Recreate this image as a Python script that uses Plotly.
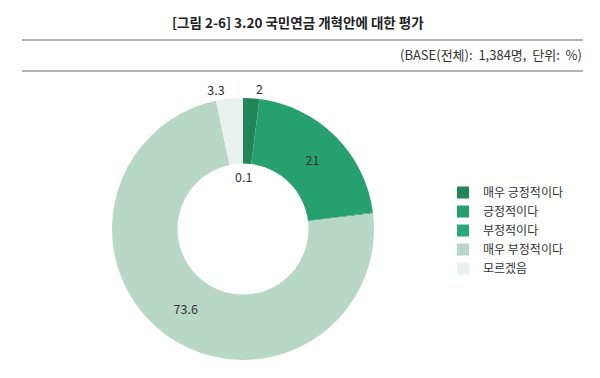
import plotly.graph_objects as go

categories = ["매우 긍정적이다", "긍정적이다", "부정적이다", "매우 부정적이다", "모르겠음"]
values = [2, 21, 0.1, 73.6, 3.3]
colors = ["#228558", "#27a070", "#2aa877", "#b9d7c7", "#e8f1ee"]
text_pos = ["outside", "inside", "none", "inside", "outside"]

title_text = "[그림 2-6] 3.20 국민연금 개혁안에 대한 평가"
base_text = "(BASE(전체): 1,384명, 단위: %)"

FONT = "Noto Sans CJK KR"

fig = go.Figure()
fig.add_trace(go.Pie(
    labels=categories,
    values=values,
    hole=0.5,
    sort=False,
    direction="clockwise",
    rotation=0,
    marker=dict(colors=colors, line=dict(width=0)),
    texttemplate="%{value}",
    textposition=text_pos,
    textfont=dict(family=FONT, size=12.5, color="#333333"),
    insidetextorientation="horizontal",
    domain=dict(x=[0.1867, 0.6233], y=[0.0476, 0.7407]),
    showlegend=True,
    hoverinfo="label+value",
))

# small slice label placed inside the hole near the top
fig.add_annotation(
    x=243 / 600, y=1 - 176 / 378, xref="paper", yref="paper",
    text=str(values[2]), showarrow=False, yanchor="middle",
    font=dict(family=FONT, size=12.5, color="#333333"),
)

fig.add_annotation(
    x=298 / 600, y=1 - 22 / 378, xref="paper", yref="paper",
    xanchor="center", yanchor="middle",
    text="<b>" + title_text + "</b>", showarrow=False,
    font=dict(family=FONT, size=13.5, color="#222222"),
)
fig.add_annotation(
    x=584 / 600, y=1 - 55 / 378, xref="paper", yref="paper",
    xanchor="right", yanchor="middle", text=base_text.replace(" ", "  "), showarrow=False,
    font=dict(family=FONT, size=13, color="#333333"),
)
for yy in [40, 71]:
    fig.add_shape(type="line", xref="paper", yref="paper",
                  x0=22 / 600, x1=583 / 600, y0=1 - yy / 378, y1=1 - yy / 378,
                  line=dict(color="#9a9a9a", width=1.3))

fig.update_layout(
    width=600, height=378,
    margin=dict(l=0, r=0, t=0, b=0),
    paper_bgcolor="white",
    plot_bgcolor="white",
    font=dict(family=FONT, size=12, color="#333333"),
    legend=dict(
        x=443 / 600, y=1 - 178 / 378, xanchor="left", yanchor="top",
        font=dict(family=FONT, size=12, color="#333333"),
        itemsizing="constant", tracegroupgap=0,
    ),
)

fig.write_html("out.html")
